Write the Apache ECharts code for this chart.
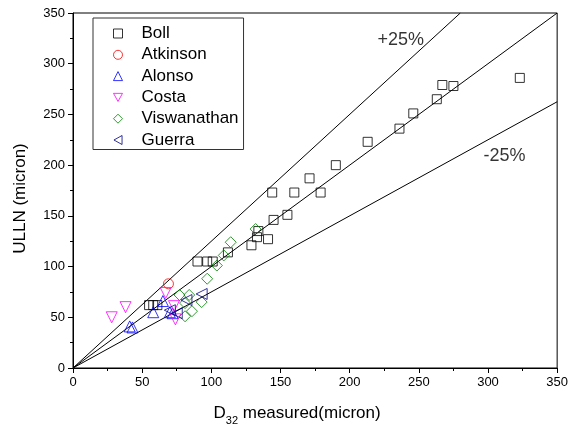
<!DOCTYPE html>
<html><head><meta charset="utf-8">
<script src="https://cdn.jsdelivr.net/npm/echarts@6/dist/echarts.min.js"></script>
<style>html,body{margin:0;padding:0;background:#fff}#c{width:571px;height:434px}</style>
</head><body><div id="c"></div>
<script>
// ---- data (x = D32 measured, y = ULLN), micron ----
const bollData = [[323,286],[275,278],[267,279],[263,265],[246,251],[236,236],[213,223],[190,200],[171,187],[179,173],[160,173],[144,173],[145,146],[155,151],[141,127],[129,121],[134,135],[133,129],[112,114],[90,105],[97,105],[101,105],[55,62],[58,62],[61,62]];
const atkinsonData = [[69,83]];
const alonsoData = [[41,41],[43,40],[58,55],[65,66],[70,55],[72,54]];
const costaData = [[28,50],[38,60],[67,74],[73,61],[74,48]];
const viswanathanData = [[77,72],[84,72],[81,64],[93,65],[86,56],[81,51],[97,88],[104,101],[109,111],[114,124],[132,137]];
const guerraData = [[93,73],[82,67],[75,54],[70,57]];
const seriesNames = ['Boll','Atkinson','Alonso','Costa','Viswanathan','Guerra'];
// reference lines: +25 %, 1:1, -25 %
const plus25Line = [[0,0],[280,350]];
const equalLine = [[0,0],[350,350]];
const minus25Line = [[0,0],[350,262.5]];
const annoLabels = ['+25%','-25%'];
const annoPos = [[237,323],[312,209]];
const xTicks = {min:0, max:350, interval:50};
const yTicks = {min:0, max:350, interval:50};

const FONT = '"Liberation Sans", Arial, sans-serif';
const chart = echarts.init(document.getElementById('c'));
const hollow = c => ({color:'rgba(0,0,0,0)', borderColor:c, borderWidth:1});
function sc(name, data, symbol, size, color, rotate) {
  return {name, type:'scatter', data, symbol, symbolSize:size, symbolRotate:rotate||0,
    itemStyle:hollow(color), z:3, emphasis:{disabled:true}, animation:false};
}
function ln(data){
  return {type:'line', data, symbol:'none', lineStyle:{color:'#000', width:1}, z:2, silent:true, animation:false, clip:true};
}
const axisCommon = {
  type:'value', axisLine:{show:true, onZero:false, lineStyle:{color:'#000', width:1}},
  axisTick:{show:true, length:5, lineStyle:{color:'#000'}},
  minorTick:{show:true, splitNumber:2, length:3, lineStyle:{color:'#000'}},
  splitLine:{show:false},
  nameLocation:'middle'
};
const legendIcons = {
  Boll:['rect','#000'], Atkinson:['circle','#ff0000'], Alonso:['triangle','#0000ff'],
  Costa:['path://M0,0L10,0L5,9Z','#ff00ff'], Viswanathan:['diamond','#008000'],
  Guerra:['path://M9,0L9,10L0,5Z','#000080']
};
chart.setOption({
  animation:false,
  grid:{left:73, right:11, top:13, bottom:66, show:true, borderColor:'#000', borderWidth:1},
  xAxis:Object.assign({}, axisCommon, xTicks, {
    name:'{a|D}{s|32}{a| measured(micron)}', nameGap:33,
    axisLabel:{color:'#000', fontSize:13, fontFamily:FONT, margin:8},
    nameTextStyle:{padding:[0,36,0,0], rich:{a:{fontSize:17, fontFamily:FONT, color:'#000'}, s:{fontSize:11, fontFamily:FONT, color:'#000', padding:[14,0,0,0]}}}
  }),
  yAxis:Object.assign({}, axisCommon, yTicks, {
    name:'ULLN (micron)', nameGap:44,
    axisLabel:{color:'#000', fontSize:13, fontFamily:FONT, margin:8},
    nameTextStyle:{fontSize:17, fontFamily:FONT, color:'#000', padding:[0,16,0,0]}
  }),
  legend:{
    data:seriesNames.map(n=>({name:n, icon:legendIcons[n][0],
      itemStyle:{color:'rgba(0,0,0,0)', borderColor:legendIcons[n][1], borderWidth:1}})),
    orient:'vertical', left:93, top:18,
    padding:[7,5,1,20], itemWidth:9, itemHeight:9, itemGap:4.3,
    borderColor:'#333', borderWidth:1, backgroundColor:'#fff',
    textStyle:{fontSize:17, fontFamily:FONT, color:'#000', lineHeight:15, padding:[0,0,0,14]},
    selectedMode:false
  },
  series:[
    ln(plus25Line), ln(equalLine), ln(minus25Line),
    sc('Boll', bollData, 'rect', 9, '#000'),
    sc('Atkinson', atkinsonData, 'circle', 10, '#ff0000'),
    sc('Alonso', alonsoData, 'triangle', 11, '#0000ff'),
    sc('Costa', costaData, 'triangle', 11, '#ff00ff', 180),
    sc('Viswanathan', viswanathanData, 'diamond', 11, '#008000'),
    sc('Guerra', guerraData, 'triangle', 11, '#000080', 90),
    {type:'scatter', symbol:'circle', symbolSize:1, silent:true, z:4, itemStyle:{color:'rgba(0,0,0,0)'},
     data:annoPos.map((p,i)=>({value:p, label:{show:true, position:'inside', formatter:annoLabels[i], fontSize:18, fontFamily:FONT, color:'#000'}}))}
  ]
});
</script></body></html>
